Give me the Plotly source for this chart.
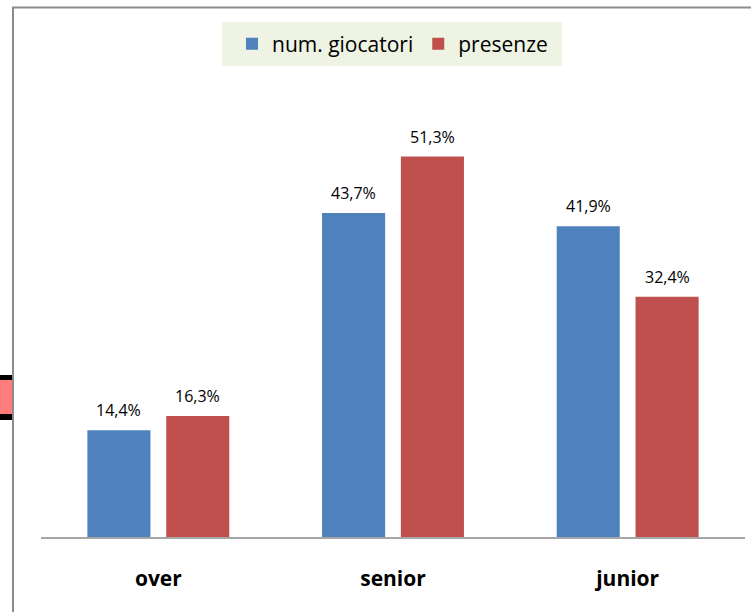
import plotly.graph_objects as go

categories = ["over", "senior", "junior"]
giocatori = [14.4, 43.7, 41.9]
presenze = [16.3, 51.3, 32.4]
giocatori_labels = ["14,4%", "43,7%", "41,9%"]
presenze_labels = ["16,3%", "51,3%", "32,4%"]

BLUE = "#4F81BD"
RED = "#C0504D"
FONT = "Open Sans"

fig = go.Figure()
fig.add_trace(go.Bar(name="num. giocatori", x=categories, y=giocatori,
                     marker=dict(color=BLUE, line=dict(width=0))))
fig.add_trace(go.Bar(name="presenze", x=categories, y=presenze,
                     marker=dict(color=RED, line=dict(width=0))))

annotations = []
for cat, v, t in zip(categories, giocatori, giocatori_labels):
    annotations.append(dict(x=cat, y=v, xref="x", yref="y", text=t, showarrow=False,
                            xshift=-39.5, yshift=7, yanchor="bottom",
                            font=dict(family=FONT, size=16, color="#000000")))
for cat, v, t in zip(categories, presenze, presenze_labels):
    annotations.append(dict(x=cat, y=v, xref="x", yref="y", text=t, showarrow=False,
                            xshift=39.5, yshift=7, yanchor="bottom",
                            font=dict(family=FONT, size=16, color="#000000")))

# helpers for converting pixel positions to paper coords (plot area 41..745, 92..537)
L, R, T, B = 41, 745, 92, 537
def px(x):
    return (x - L) / (R - L)
def py(y):
    return (B - y) / (B - T)

LEGEND_BG = "#EEF3E3"
shapes = [
    # legend background box
    dict(type="rect", xref="paper", yref="paper", x0=px(222), x1=px(562), y0=py(22), y1=py(66),
         fillcolor=LEGEND_BG, line=dict(width=0), layer="below"),
    # outer frame (left and top edges)
    dict(type="line", xref="paper", yref="paper", x0=px(13), x1=px(13), y0=py(7), y1=py(640),
         line=dict(color="#8C8C8C", width=2)),
    dict(type="line", xref="paper", yref="paper", x0=px(12), x1=px(760), y0=py(7.5), y1=py(7.5),
         line=dict(color="#8C8C8C", width=2)),
    # cut-off marker on the left
    dict(type="rect", xref="paper", yref="paper", x0=px(-10), x1=px(12), y0=py(375), y1=py(420),
         fillcolor="#000000", line=dict(width=0)),
    dict(type="rect", xref="paper", yref="paper", x0=px(-10), x1=px(12), y0=py(380), y1=py(414),
         fillcolor="#FF7C7C", line=dict(width=0)),
]

fig.update_layout(
    width=751, height=612,
    margin=dict(l=L, r=751 - R, t=T, b=612 - B),
    paper_bgcolor="white", plot_bgcolor="white",
    barmode="group", bargap=0.328, bargroupgap=0.2,
    font=dict(family=FONT, color="#000000"),
    showlegend=True,
    legend=dict(orientation="h", x=px(232), y=py(44), xanchor="left", yanchor="middle",
                bgcolor="rgba(0,0,0,0)", borderwidth=0,
                font=dict(family=FONT, size=21, color="#000000"),
                traceorder="normal"),
    annotations=annotations,
    shapes=shapes,
)
fig.update_xaxes(showline=True, linecolor="#A6A6A6", linewidth=1.5,
                 ticks="outside", ticklen=22, tickcolor="rgba(0,0,0,0)",
                 tickfont=dict(family=FONT, size=21, color="#000000", weight="bold"),
                 showgrid=False, zeroline=False, fixedrange=True)
fig.update_yaxes(range=[0, 60], showgrid=False, zeroline=False, showticklabels=False,
                 showline=False, fixedrange=True)

fig.write_html("out.html", config={"displayModeBar": False},
               post_script="document.body.style.margin='0px';")
